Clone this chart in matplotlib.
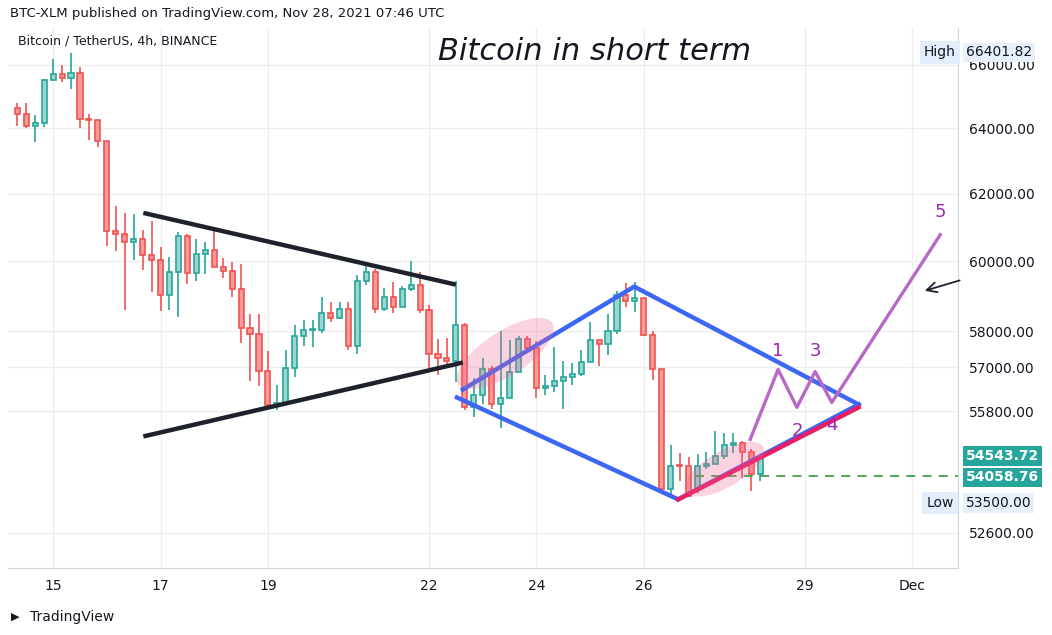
import numpy as np
import matplotlib
matplotlib.use("Agg")
import matplotlib.pyplot as plt
from matplotlib.patches import Ellipse
from matplotlib.ticker import FixedLocator, NullLocator

# 4h candles starting Nov 14 08:00 (x in days of November)
start_day = 14 + 1/3
opens  = [64630,64440,64070,64165,65512,65703,65575,65735,64288,64258,63608,60895,60806,60570,60659,60190,60044,59035,59697,60747,
          59655,60219,60336,59841,59725,59207,58107,57930,56901,55952,56006,56984,57874,58043,58043,58522,58380,58636,57594,59436,
          59697,58644,58987,58701,59207,59321,58607,57371,57260,57177,58183,55917,56243,56956,55998,56161,56873,57798,57537,56415,
          56488,56625,56736,56818,57150,57762,57650,58014,59044,58861,58949,57902,56956,53721,54342,54342,53721,54342,54395,54605,
          54897,54932,54700,54131]
highs  = [64790,64790,64420,65554,66192,66000,66384,65926,64453,64258,63608,61625,61437,61398,60933,61199,60433,60141,60853,60815,
          60667,60579,60983,60102,59975,59937,58502,58502,57463,56497,57491,58192,58333,58313,58987,58844,58824,58844,59618,59859,
          59791,59244,59416,59302,60024,59697,58758,57798,57817,59445,58240,56710,57264,57029,58023,57770,57863,57863,57742,56790,
          57574,57185,57122,57491,58277,57762,58502,59159,59378,59407,58949,58014,56956,54878,54666,54579,54640,54700,55271,55217,
          55217,55000,54772,54552]
lows   = [64060,64010,63595,64058,65512,65470,65247,63998,63627,63412,60442,60296,58596,60032,59743,59110,58568,58596,58398,59350,
          59425,59627,59841,59512,58967,57666,56614,56478,55844,55825,56006,56724,57602,57555,57957,58257,58353,57491,57360,59310,
          58511,58579,58511,58701,59138,58511,56984,56780,56984,56587,55825,55650,55998,55844,55341,56161,56873,57491,56161,56232,
          56325,55863,56505,56744,57150,57028,57333,57930,58690,58551,57863,56637,53677,53531,53937,53521,53635,54244,54395,54526,
          54685,54026,53677,53937]
closes = [64440,64070,64165,65512,65703,65575,65735,64288,64258,63608,60895,60806,60570,60659,60190,60044,59035,59697,60747,59655,
          60219,60336,59841,59725,59207,58107,57930,56901,55952,56006,56984,57874,58043,58051,58522,58380,58636,57594,59436,59697,
          58644,58987,58701,59207,59321,58607,57371,57260,57177,58183,55917,56243,56956,55998,56161,56873,57798,57537,56415,56488,
          56625,56736,56818,57150,57762,57650,58014,59044,58861,58949,57902,56956,53721,54342,54331,53547,54342,54395,54605,54897,
          54932,54700,54131,54552]

price_ticks = [66000, 64000, 62000, 60000, 58000, 57000, 55800, 52600]
date_ticks = [15, 17, 19, 22, 24, 26, 29, 31]
date_labels = ["15", "17", "19", "22", "24", "26", "29", "Dec"]

# drawn lines (day, price)
tri_upper = ([16.68, 22.50], [61430, 59330])
tri_lower = ([16.68, 22.63], [55118, 57130])
blue_lines = [([22.52, 26.64, 30.0], [56170, 53460, 55979]),
              ([22.63, 25.82, 30.0], [56388, 59273, 55979])]
red_line = ([26.64, 30.0], [53460, 55900])
wave_x = [27.98, 28.5, 28.85, 29.19, 29.5, 31.52]
wave_y = [55038, 56936, 55900, 56880, 56034, 60785]
wave_labels = [("1", 28.5, 57450), ("2", 28.85, 55250), ("3", 29.19, 57450), ("4", 29.5, 55420), ("5", 31.52, 61450)]
arrow_from = (31.93, 59474)
arrow_to = (31.18, 59130)
ellipses = [(23.42, 57380, 112, 44, 33), (27.5, 54250, 90, 36, 30)]

high_val, low_val, last_val, ref_val = 66401.82, 53500.00, 54543.72, 54058.76

W, H = 1052, 635
fig = plt.figure(figsize=(W/100, H/100), dpi=100)
ax = fig.add_axes([8/W, (H-568)/H, 950/W, 540/H])
ax.set_yscale("log")
ax.set_xlim(14.16, 31.85)
ax.set_ylim(51710, 67195)

up_edge, dn_edge = "#26a69a", "#ef5350"
up_face, dn_face = "#9bd7d0", "#f59b99"
xs = start_day + np.arange(len(opens)) / 6
for x, o, h, l, c in zip(xs, opens, highs, lows, closes):
    ec = up_edge if c >= o else dn_edge
    fc = up_face if c >= o else dn_face
    ax.vlines(x, l, h, color=ec, lw=1.2, zorder=2)
    lo, hi = min(o, c), max(o, c)
    if hi / lo < 1.0006:
        hi = lo * 1.0006
    ax.bar(x, hi - lo, bottom=lo, width=0.095, color=fc, edgecolor=ec, lw=1.2, zorder=3)

for xe, ye, w, h, ang in ellipses:
    cx, cy = ax.transData.transform((xe, ye))
    e = Ellipse((cx, cy), w, h, angle=ang, transform=None, facecolor="#f06292", alpha=0.28, edgecolor="none", zorder=4)
    fig.patches.append(e)

ax.plot(*tri_upper, color="#1e222d", lw=3.2, solid_capstyle="butt", zorder=5)
ax.plot(*tri_lower, color="#1e222d", lw=3.2, solid_capstyle="butt", zorder=5)
for bx, by in blue_lines:
    ax.plot(bx, by, color="#3d66f5", lw=3.2, zorder=5)
ax.plot(*red_line, color="#e91e63", lw=3.2, zorder=6)
ax.plot(wave_x, wave_y, color="#ba68c8", lw=2.4, zorder=6)
for t, lx, ly in wave_labels:
    ax.text(lx, ly, t, color="#9c27b0", fontsize=13, ha="center", va="center", zorder=7)
ax.annotate("", xy=arrow_to, xytext=arrow_from,
            arrowprops=dict(arrowstyle="->", color="#1e222d", lw=1.3, mutation_scale=18))
ax.axhline(ref_val, xmin=(26.95-14.16)/(31.85-14.16), xmax=1, color="#43a047", lw=1.3, ls=(0, (5, 4)), zorder=4)

ax.yaxis.set_major_locator(FixedLocator(price_ticks))
ax.yaxis.set_minor_locator(NullLocator())
ax.yaxis.tick_right()
ax.set_yticklabels([f"{p:.2f}" for p in price_ticks])
ax.set_xticks(date_ticks)
ax.set_xticklabels(date_labels)
ax.tick_params(axis="both", length=0, labelsize=10, colors="#131722")
ax.tick_params(axis="y", pad=8)
ax.tick_params(axis="x", pad=8)
ax.grid(True, color="#eceef2", lw=1, zorder=0)
ax.set_axisbelow(True)
for s in ["top", "left"]:
    ax.spines[s].set_visible(False)
ax.spines["right"].set_color("#d1d4dc")
ax.spines["bottom"].set_color("#d1d4dc")

def price_box(val, txt, fc, tc, bold, dy=0, label=None, lfc=None):
    y = ax.transData.transform((0, val))[1] + dy
    yf = y / H
    fig.text(966/W, yf, txt, fontsize=10, color=tc, va="center", ha="left",
             fontweight="bold" if bold else "normal",
             bbox=dict(boxstyle="square,pad=0.2", fc=fc, ec="none"))
    if label:
        fig.text(940/W, yf, label, fontsize=10, color="#131722", va="center", ha="center",
                 bbox=dict(boxstyle="square,pad=0.3", fc=lfc, ec="none"))

price_box(high_val, f"{high_val:.2f}", "#e8f0fe", "#131722", False, 0, "High", "#e3eefc")
price_box(last_val, f"{last_val:.2f}", "#26a69a", "white", True, 2)
price_box(ref_val, f"{ref_val:.2f}", "#26a69a", "white", True, -1)
price_box(low_val, f"{low_val:.2f}", "#e8f0fe", "#131722", False, -5, "Low", "#e3eefc")

fig.text(10/W, 1-14/H, "BTC-XLM published on TradingView.com, Nov 28, 2021 07:46 UTC", fontsize=9.5, color="#131722", va="center")
fig.text(18/W, 1-41/H, "Bitcoin / TetherUS, 4h, BINANCE", fontsize=9, color="#131722", va="center")
fig.text(595/W, 1-52/H, "Bitcoin in short term", fontsize=22, style="italic", color="#131722", va="center", ha="center")
fig.text(30/W, 1-617/H, "TradingView", fontsize=10, color="#131722", va="center")
fig.text(11/W, 1-617/H, "\u25b6", fontsize=8, color="#131722", va="center")

fig.savefig("out.png", dpi=100, facecolor="white")
